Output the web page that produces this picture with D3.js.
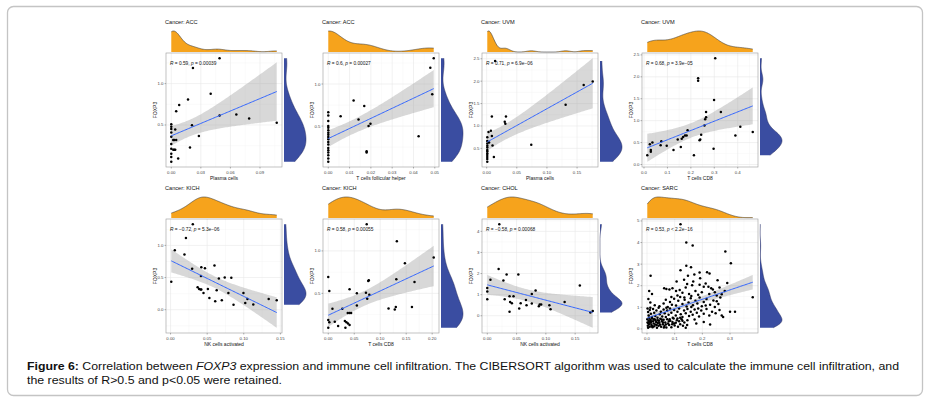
<!DOCTYPE html>
<html>
<head>
<meta charset="utf-8">
<script src="https://cdn.jsdelivr.net/npm/d3@7"></script>
<style>
  body { margin: 0; background: #fff; }
  svg { display: block; font-family: "Liberation Sans", Arial, sans-serif; }
</style>
</head>
<body>
<svg id="fig" width="933" height="405"></svg>
<script>
// [immune cell fraction, FOXP3 expression]
const accPlasma = [[0.049,1.307],[0.022,1.189],[0.040,0.878],[0.017,0.807],[0.008,0.740],[0.005,0.665],[0.107,0.528],[0.066,0.626],[0.079,0.579],[0.049,0.614],[0.021,0.496],[0.028,0.366],[0.019,0.228],[0.007,0.094],[0.000,0.508],[0.000,0.480],[0.000,0.450],[0.004,0.445],[0.000,0.410],[0.000,0.358],[0.002,0.320],[0.003,0.320],[0.005,0.320],[0.000,0.270],[0.000,0.213],[0.002,0.200],[0.003,0.200],[0.004,0.200],[0.000,0.153],[0.000,0.114],[0.000,0.055]];
const accTfh = [[0.0495,1.307],[0.0479,1.193],[0.0488,0.878],[0.0119,0.803],[0.0169,0.740],[0.0058,0.618],[0.0142,0.579],[0.0198,0.528],[0.0189,0.500],[0.0424,0.378],[0.018,0.200],[0.018,0.185],[0,0.665],[0,0.626],[0,0.559],[0,0.500],[0,0.480],[0,0.449],[0,0.421],[0,0.398],[0,0.370],[0,0.343],[0,0.311],[0,0.280],[0,0.240],[0,0.213],[0,0.185],[0,0.154],[0,0.114],[0,0.075]];
const uvmPlasma = [[0.014,2.45],[0.176,1.993],[0.161,1.914],[0.131,1.471],[0.0086,1.214],[0.032,1.214],[0.030,1.093],[0.031,1.050],[0.007,0.893],[0.003,0.864],[0.0086,0.779],[0.001,0.750],[0.074,0.579],[0.0097,0.564],[0.012,0.307],[0.004,0.629],[0.001,0.664],[0.001,0.607],[0.001,0.557],[0.001,0.521],[0.001,0.464],[0.001,0.436],[0.001,0.393],[0.001,0.350],[0.001,0.307],[0.001,0.264],[0.001,0.200]];
const uvmCD8 = [[0.304,2.425],[0.231,1.97],[0.231,1.91],[0.299,1.47],[0.328,1.20],[0.265,1.20],[0.265,1.08],[0.261,1.03],[0.258,0.89],[0.186,0.78],[0.182,0.66],[0.175,0.66],[0.167,0.63],[0.161,0.59],[0.144,0.57],[0.244,0.68],[0.240,0.57],[0.237,0.555],[0.411,0.86],[0.390,0.66],[0.464,0.74],[0.157,0.40],[0.126,0.33],[0.097,0.43],[0.071,0.44],[0.074,0.53],[0.036,0.50],[0.025,0.46],[0.029,0.33],[0.029,0.29],[0.014,0.21],[0.213,0.21],[0.297,0.36]];
const kichNK = [[0.0304,1.33],[0.021,1.116],[0.0058,0.924],[0.019,0.859],[0.001,0.434],[0.0295,0.636],[0.042,0.662],[0.047,0.646],[0.060,0.687],[0.074,0.500],[0.083,0.495],[0.066,0.485],[0.0415,0.525],[0.037,0.348],[0.039,0.323],[0.041,0.313],[0.042,0.313],[0.045,0.258],[0.051,0.323],[0.063,0.303],[0.079,0.258],[0.053,0.182],[0.061,0.131],[0.070,0.146],[0.086,0.076],[0.0995,0.258],[0.102,0.106],[0.105,0.167],[0.113,0.081],[0.134,0.167],[0.145,0.146]];
const kichCD8 = [[0.074,1.315],[0.132,1.114],[0.203,0.921],[0.1475,0.854],[0.000,0.693],[0.131,0.665],[0.078,0.654],[0.077,0.646],[0.166,0.634],[0.002,0.528],[0.041,0.547],[0.055,0.500],[0.0725,0.508],[0.079,0.484],[0.075,0.437],[0.055,0.358],[0.008,0.319],[0.027,0.319],[0.116,0.323],[0.130,0.339],[0.128,0.311],[0.161,0.339],[0.0375,0.270],[0.041,0.270],[0.044,0.270],[0.000,0.185],[0.002,0.161],[0.0125,0.165],[0.032,0.173],[0.035,0.161],[0.038,0.146],[0.041,0.126],[0.019,0.114],[0.033,0.094],[0.000,0.094]];
const cholNK = [[0.0205,4.34],[0.0194,2.21],[0.0054,1.71],[0.0275,1.67],[0.033,1.95],[0.053,1.95],[0.000,1.31],[0.000,1.15],[0.000,0.78],[0.038,0.93],[0.0297,0.78],[0.0448,0.92],[0.039,0.65],[0.042,0.59],[0.038,0.19],[0.0545,0.34],[0.057,0.59],[0.066,0.75],[0.067,0.50],[0.076,1.03],[0.0825,1.20],[0.076,0.58],[0.088,0.45],[0.0895,0.53],[0.092,0.53],[0.106,0.50],[0.108,0.31],[0.132,0.65],[0.158,1.43],[0.180,0.22],[0.176,0.16]];
const sarcCD8 = [
  [0.121,4.85],[0.142,4.00],[0.165,3.86],[0.283,3.59],[0.303,3.04],[0.013,2.46],[0.142,2.92],[0.159,2.85],[0.121,2.72],[0.190,2.61],[0.226,2.57],[0.148,2.46],[0.171,2.52],[0.134,2.28],[0.290,2.13],[0.107,2.19],[0.167,2.19],[0.145,2.08],[0.163,2.02],[0.190,2.05],[0.222,1.95],[0.212,2.10],
  [0.062,1.88],[0.070,1.85],[0.081,1.82],[0.092,1.88],[0.105,1.75],[0.118,1.80],[0.128,1.68],[0.140,1.92],[0.152,1.62],[0.175,1.75],[0.185,1.58],[0.198,1.70],[0.225,1.62],[0.238,1.82],[0.252,1.55],[0.018,1.62],[0.192,2.35],[0.217,2.62],[0.270,1.60],[0.110,1.55],[0.160,1.52],[0.008,1.75],
  [0.382,1.47],[0.005,1.38],[0.012,1.22],[0.232,1.88],[0.028,1.10],[0.245,1.70],[0.045,1.05],[0.262,1.92],[0.060,1.18],[0.068,1.35],[0.075,1.02],[0.083,1.25],[0.090,1.12],[0.098,1.40],[0.105,1.08],[0.113,1.30],[0.120,1.48],[0.128,1.15],[0.136,1.35],[0.143,1.04],[0.150,1.22],[0.158,1.42],[0.166,1.10],[0.175,1.30],[0.182,1.18],[0.190,1.45],[0.198,1.05],[0.205,1.25],[0.215,1.38],[0.228,1.12],[0.240,1.32],[0.252,1.28],[0.258,1.15],[0.265,1.45],[0.212,1.08],[0.135,1.46],[0.281,1.75],[0.205,1.95],[0.255,2.25],[0.088,1.48],[0.160,1.02],[0.245,1.02],
  [0.002,0.95],[0.004,0.78],[0.006,0.62],[0.010,0.88],[0.014,0.70],[0.018,0.55],[0.022,0.92],[0.026,0.75],[0.030,0.60],[0.034,0.85],[0.038,0.52],[0.042,0.98],[0.046,0.68],[0.050,0.80],[0.055,0.58],[0.060,0.90],[0.064,0.72],[0.068,0.55],[0.073,0.85],[0.078,0.65],[0.083,0.95],[0.088,0.75],[0.093,0.52],[0.098,0.88],[0.104,0.62],[0.110,0.80],[0.116,0.95],[0.122,0.68],[0.128,0.55],[0.134,0.85],[0.140,0.72],[0.146,0.92],[0.152,0.60],[0.158,0.80],[0.165,0.66],[0.172,0.90],[0.180,0.75],[0.188,0.58],[0.196,0.85],[0.205,0.70],[0.215,0.92],[0.225,0.62],[0.235,0.80],[0.248,0.72],[0.262,0.88],[0.270,0.62],[0.275,0.55],[0.300,0.80],[0.318,0.80],[0.012,0.98],[0.070,0.98],[0.120,0.52],[0.185,0.95],[0.008,0.52],
  [0.001,0.45],[0.002,0.30],[0.003,0.15],[0.004,0.05],[0.006,0.38],[0.008,0.22],[0.010,0.10],[0.012,0.42],[0.014,0.28],[0.016,0.18],[0.018,0.48],[0.020,0.08],[0.022,0.35],[0.024,0.25],[0.026,0.12],[0.028,0.44],[0.030,0.20],[0.033,0.32],[0.036,0.05],[0.039,0.40],[0.042,0.15],[0.045,0.28],[0.048,0.47],[0.051,0.10],[0.054,0.36],[0.057,0.22],[0.060,0.42],[0.063,0.14],[0.066,0.30],[0.070,0.06],[0.073,0.45],[0.076,0.25],[0.080,0.18],[0.084,0.38],[0.088,0.08],[0.092,0.32],[0.096,0.48],[0.100,0.16],[0.104,0.28],[0.108,0.40],[0.112,0.10],[0.116,0.35],[0.120,0.22],[0.125,0.45],[0.130,0.15],[0.135,0.30],[0.140,0.05],[0.146,0.40],[0.009,0.33],[0.019,0.12],[0.031,0.41],[0.172,0.44],[0.178,0.25],[0.047,0.19],[0.061,0.07],[0.205,0.32],[0.079,0.36],[0.228,0.20],[0.091,0.22],[0.053,0.44],[0.039,0.27],[0.005,0.26],[0.015,0.35],[0.025,0.45],[0.035,0.18],[0.043,0.38],[0.058,0.30],[0.068,0.20],[0.082,0.45],[0.098,0.25],[0.110,0.48],[0.128,0.38],[0.145,0.18]
];

const panelData = [accPlasma, accTfh, uvmPlasma, uvmCD8, kichNK, kichCD8, cholNK, sarcCD8];
const cancers = ["ACC", "ACC", "UVM", "UVM", "KICH", "KICH", "CHOL", "SARC"];
const cellTypes = ["Plasma cells", "T cells follicular helper", "Plasma cells", "T cells CD8",
                   "NK cells activated", "T cells CD8", "NK cells activated", "T cells CD8"];
const rValues = ["0.59", "0.6", "0.71", "0.68", "\u22120.72", "0.58", "\u22120.58", "0.53"];
const pValues = ["= 0.00039", "= 0.00027", "= 6.9e\u221206", "= 3.9e\u221205", "= 5.3e\u221206", "= 0.00055", "= 0.00068", "< 2.2e\u221216"];
const xTicks = [[0, 0.03, 0.06, 0.09], [0, 0.01, 0.02, 0.03, 0.04, 0.05], [0, 0.05, 0.10, 0.15], [0, 0.1, 0.2, 0.3, 0.4],
                [0, 0.05, 0.10, 0.15], [0, 0.05, 0.10, 0.15, 0.20], [0, 0.05, 0.10, 0.15], [0, 0.1, 0.2, 0.3]];
const yTicks = [[0.5, 1.0], [0.5, 1.0], [0.5, 1.0, 1.5, 2.0, 2.5], [0, 0.5, 1.0, 1.5, 2.0, 2.5],
                [0, 0.5, 1.0], [0.5, 1.0], [0, 1, 2, 3, 4], [0, 1, 2, 3, 4, 5]];
const xFormats = [".2f", ".2f", ".2f", ".1f", ".2f", ".2f", ".2f", ".1f"];
const yFormats = [".1f", ".1f", ".1f", ".1f", ".1f", ".1f", "d", "d"];

const svg = d3.select("#fig");
svg.append("rect")
  .attr("x", 7.5).attr("y", 6.5).attr("width", 915).attr("height", 389)
  .attr("rx", 6).attr("fill", "none").attr("stroke", "#c4c4c4").attr("stroke-width", 1.3);

const colLeft = [166, 323, 482, 642];
const rowTop = [53, 219];
const boxW = 116, boxH = 114;
const orange = "#F6A31C", blue = "#3A4DA1";

// least squares line with 95% band, like geom_smooth(method = "lm")
const linFit = (pts) => {
  const n = pts.length;
  const mx = d3.mean(pts, p => p[0]), my = d3.mean(pts, p => p[1]);
  let sxx = 0, sxy = 0;
  pts.forEach(([x, y]) => { sxx += (x - mx) ** 2; sxy += (x - mx) * (y - my); });
  const b = sxy / sxx, a = my - b * mx;
  const sse = d3.sum(pts, ([x, y]) => (y - a - b * x) ** 2);
  const s = Math.sqrt(sse / (n - 2));
  const df = n - 2, z = 1.959964;
  const t = z + (z ** 3 + z) / (4 * df) + (5 * z ** 5 + 16 * z ** 3 + 3 * z) / (96 * df * df);
  const [x0, x1] = d3.extent(pts, p => p[0]);
  return d3.range(80).map(i => {
    const x = x0 + (x1 - x0) * i / 79;
    const f = a + b * x;
    const se = s * Math.sqrt(1 / n + (x - mx) ** 2 / sxx);
    return { x, y: f, lo: f - t * se, hi: f + t * se };
  });
};

// gaussian kernel density with bw.nrd0, over the data range
const kde = (vals) => {
  const n = vals.length;
  const sorted = vals.slice().sort(d3.ascending);
  const sd = d3.deviation(vals);
  const iqr = d3.quantile(sorted, 0.75) - d3.quantile(sorted, 0.25);
  let lo = Math.min(sd, iqr / 1.34);
  if (!(lo > 0)) lo = sd;
  const bw = 0.9 * lo * Math.pow(n, -0.2);
  const [a, b] = d3.extent(vals);
  return d3.range(200).map(i => {
    const v = a + (b - a) * i / 199;
    const d = d3.sum(vals, u => Math.exp(-0.5 * ((v - u) / bw) ** 2)) / (n * bw * Math.sqrt(2 * Math.PI));
    return [v, d];
  });
};

const pad = (e) => { const r = e[1] - e[0]; return [e[0] - 0.05 * r, e[1] + 0.05 * r]; };

const minorOf = (ticks, domain) => {
  const step = ticks[1] - ticks[0];
  const out = [];
  for (let v = ticks[0] - step / 2; v <= domain[1]; v += step) if (v >= domain[0]) out.push(v);
  return out;
};

panelData.forEach((pts, i) => {
  const left = colLeft[i % 4], top = rowTop[Math.floor(i / 4)];
  const fit = linFit(pts);
  const xDom = pad(d3.extent(pts, p => p[0]));
  const yDom = pad(d3.extent([...pts.map(p => p[1]), ...fit.map(f => f.lo), ...fit.map(f => f.hi)]));
  const x = d3.scaleLinear().domain(xDom).range([left, left + boxW]);
  const y = d3.scaleLinear().domain(yDom).range([top + boxH, top]);
  const g = svg.append("g");

  // grid
  const grid = g.append("g");
  minorOf(xTicks[i], xDom).forEach(v => grid.append("line")
    .attr("x1", x(v)).attr("x2", x(v)).attr("y1", top).attr("y2", top + boxH)
    .attr("stroke", "#f3f3f3").attr("stroke-width", 0.4));
  minorOf(yTicks[i], yDom).forEach(v => grid.append("line")
    .attr("x1", left).attr("x2", left + boxW).attr("y1", y(v)).attr("y2", y(v))
    .attr("stroke", "#f3f3f3").attr("stroke-width", 0.4));
  xTicks[i].forEach(v => grid.append("line")
    .attr("x1", x(v)).attr("x2", x(v)).attr("y1", top).attr("y2", top + boxH)
    .attr("stroke", "#e8e8e8").attr("stroke-width", 0.6));
  yTicks[i].forEach(v => grid.append("line")
    .attr("x1", left).attr("x2", left + boxW).attr("y1", y(v)).attr("y2", y(v))
    .attr("stroke", "#e8e8e8").attr("stroke-width", 0.6));

  // confidence band + fitted line
  g.append("path").datum(fit)
    .attr("d", d3.area().x(d => x(d.x)).y0(d => y(d.lo)).y1(d => y(d.hi)))
    .attr("fill", "#999").attr("fill-opacity", 0.38);

  g.selectAll("circle").data(pts).join("circle")
    .attr("cx", d => x(d[0])).attr("cy", d => y(d[1])).attr("r", 1.25)
    .attr("fill", "#000");

  g.append("path").datum(fit)
    .attr("d", d3.line().x(d => x(d.x)).y(d => y(d.y)))
    .attr("fill", "none").attr("stroke", "#3366FF").attr("stroke-width", 1);

  g.append("rect")
    .attr("x", left).attr("y", top).attr("width", boxW).attr("height", boxH)
    .attr("fill", "none").attr("stroke", "#9a9a9a").attr("stroke-width", 0.6);

  // axes
  const xAxis = g.append("g");
  xTicks[i].forEach(v => {
    xAxis.append("line").attr("x1", x(v)).attr("x2", x(v)).attr("y1", top + boxH).attr("y2", top + boxH + 1.5)
      .attr("stroke", "#444").attr("stroke-width", 0.4);
    xAxis.append("text").attr("x", x(v)).attr("y", top + boxH + 6.5)
      .attr("text-anchor", "middle").attr("font-size", 4.3).attr("fill", "#444")
      .text(d3.format(xFormats[i])(v));
  });
  const yAxis = g.append("g");
  yTicks[i].forEach(v => {
    yAxis.append("line").attr("x1", left - 1.5).attr("x2", left).attr("y1", y(v)).attr("y2", y(v))
      .attr("stroke", "#444").attr("stroke-width", 0.4);
    yAxis.append("text").attr("x", left - 2.5).attr("y", y(v) + 1.5)
      .attr("text-anchor", "end").attr("font-size", 4.3).attr("fill", "#444")
      .text(d3.format(yFormats[i])(v));
  });
  g.append("text").attr("x", left + boxW / 2).attr("y", top + boxH + 13)
    .attr("text-anchor", "middle").attr("font-size", 5).attr("fill", "#111")
    .text(cellTypes[i]);
  g.append("text")
    .attr("transform", `translate(${left - 9.5},${top + boxH / 2}) rotate(-90)`)
    .attr("text-anchor", "middle").attr("font-size", 5).attr("fill", "#111")
    .text("FOXP3");

  // stat label
  const lab = g.append("text").attr("x", left + 4).attr("y", top + 11.5)
    .attr("font-size", 4.8).attr("fill", "#111");
  lab.append("tspan").attr("font-style", "italic").text("R");
  lab.append("tspan").text(` = ${rValues[i]}, `);
  lab.append("tspan").attr("font-style", "italic").text("p");
  lab.append("tspan").text(` ${pValues[i]}`);

  // marginal densities
  const dx = kde(pts.map(p => p[0]));
  const hx = d3.scaleLinear().domain([0, d3.max(dx, d => d[1])]).range([top - 1, top - 22]);
  g.append("path").datum(dx)
    .attr("d", d3.area().x(d => x(d[0])).y0(top - 1).y1(d => hx(d[1])))
    .attr("fill", orange);
  g.append("path").datum(dx)
    .attr("d", d3.line().x(d => x(d[0])).y(d => hx(d[1])))
    .attr("fill", "none").attr("stroke", "#3a3a3a").attr("stroke-width", 0.6);

  const dy = kde(pts.map(p => p[1]));
  const wy = d3.scaleLinear().domain([0, d3.max(dy, d => d[1])]).range([left + boxW + 2, left + boxW + 24]);
  g.append("path").datum(dy)
    .attr("d", d3.area().y(d => y(d[0])).x0(left + boxW + 2).x1(d => wy(d[1])))
    .attr("fill", blue);
  g.append("path").datum(dy)
    .attr("d", d3.line().y(d => y(d[0])).x(d => wy(d[1])))
    .attr("fill", "none").attr("stroke", "#2a2f5a").attr("stroke-width", 0.5);

  // panel title
  g.append("text").attr("x", left - 1).attr("y", top - 29)
    .attr("font-size", 5.6).attr("fill", "#111")
    .text(`Cancer: ${cancers[i]}`);
});

// caption
const cap1 = svg.append("text").attr("x", 27).attr("y", 370)
  .attr("font-size", 11.5).attr("fill", "#111")
  .attr("textLength", 872).attr("lengthAdjust", "spacingAndGlyphs");
cap1.append("tspan").attr("font-weight", "bold").text("Figure 6:");
cap1.append("tspan").text(" Correlation between ");
cap1.append("tspan").attr("font-style", "italic").text("FOXP3");
cap1.append("tspan").text(" expression and immune cell infiltration. The CIBERSORT algorithm was used to calculate the immune cell infiltration, and");
svg.append("text").attr("x", 27).attr("y", 383.5)
  .attr("font-size", 11.5).attr("fill", "#111")
  .attr("textLength", 255).attr("lengthAdjust", "spacingAndGlyphs")
  .text("the results of R>0.5 and p<0.05 were retained.");
</script>
</body>
</html>
